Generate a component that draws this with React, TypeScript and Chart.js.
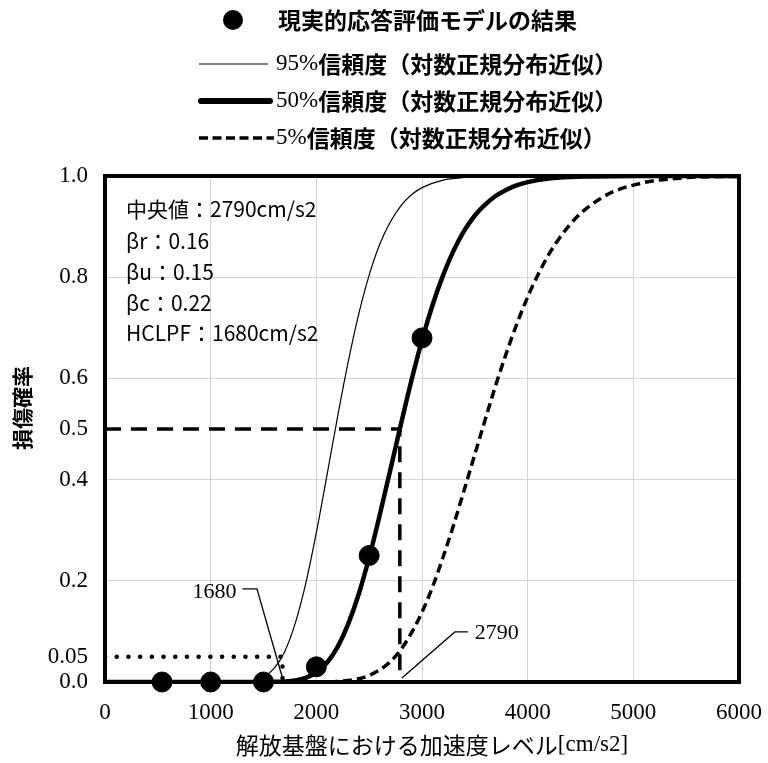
import React, { useEffect, useRef } from "react";
import { Chart, registerables } from "chart.js";
Chart.register(...registerables);

// ---- data ----
const resultX = [540, 1000, 1500, 2000, 2500, 3000];
const resultY = [0, 0, 0, 0.03, 0.25, 0.68];

const curve95X = [0, 1100, 1200, 1300, 1400, 1500, 1600, 1700, 1800, 1900, 2000, 2100, 2200, 2300, 2400, 2500, 2600, 2700, 2800, 2900, 3000, 3200, 3400, 3600, 4000, 6000];
const curve95Y = [0, 0, 0.0001, 0.0006, 0.003, 0.010, 0.027, 0.060, 0.116, 0.195, 0.295, 0.408, 0.523, 0.631, 0.726, 0.804, 0.865, 0.909, 0.941, 0.963, 0.977, 0.992, 0.997, 0.999, 1.0, 1.0];

const curve50X = [0, 1400, 1500, 1600, 1700, 1800, 1900, 2000, 2100, 2200, 2300, 2400, 2500, 2600, 2700, 2800, 2900, 3000, 3100, 3200, 3300, 3400, 3500, 3600, 3700, 3800, 3900, 4000, 4200, 4400, 4600, 5000, 6000];
const curve50Y = [0, 0, 0.0001, 0.0003, 0.001, 0.003, 0.008, 0.019, 0.038, 0.069, 0.114, 0.173, 0.246, 0.330, 0.419, 0.509, 0.596, 0.675, 0.745, 0.804, 0.853, 0.892, 0.922, 0.944, 0.961, 0.973, 0.982, 0.988, 0.995, 0.998, 0.999, 1.0, 1.0];

const curve5X = [0, 1900, 2000, 2100, 2200, 2300, 2400, 2500, 2600, 2700, 2800, 2900, 3000, 3100, 3200, 3300, 3400, 3500, 3600, 3700, 3800, 3900, 4000, 4100, 4200, 4300, 4400, 4500, 4600, 4700, 4800, 4900, 5000, 5200, 5400, 5600, 6000];
const curve5Y = [0, 0, 0.0002, 0.0005, 0.0012, 0.003, 0.0065, 0.013, 0.024, 0.040, 0.064, 0.097, 0.138, 0.188, 0.247, 0.311, 0.380, 0.450, 0.520, 0.588, 0.651, 0.709, 0.761, 0.806, 0.845, 0.877, 0.904, 0.926, 0.943, 0.957, 0.968, 0.976, 0.982, 0.991, 0.995, 0.998, 0.999];

const medianValue = 2790;
const hclpfValue = 1680;
const medianProb = 0.5;
const hclpfProb = 0.05;

const yTickValues = [0, 0.05, 0.2, 0.4, 0.5, 0.6, 0.8, 1.0];
const yTickLabels = ["0.0", "0.05", "0.2", "0.4", "0.5", "0.6", "0.8", "1.0"];
const yGridValues = [0.2, 0.4, 0.6, 0.8];
const xGridValues = [1000, 2000, 3000, 4000, 5000];

const legendLabels = [
  "現実的応答評価モデルの結果",
  "95%信頼度（対数正規分布近似）",
  "50%信頼度（対数正規分布近似）",
  "5%信頼度（対数正規分布近似）",
];
const infoLines = ["中央値：2790cm/s2", "βr：0.16", "βu：0.15", "βc：0.22", "HCLPF：1680cm/s2"];
const xTitle = "解放基盤における加速度レベル[cm/s2]";
const yTitle = "損傷確率";

const SERIF = '"Liberation Serif", "Times New Roman", serif';
const CJK = '"Noto Sans CJK JP", sans-serif';

function toXY(xs: number[], ys: number[]) {
  return xs.map((x, i) => ({ x, y: ys[i] }));
}

function drawMixed(ctx: CanvasRenderingContext2D, text: string, x: number, y: number, cjkFont: string, latinFont: string, align: "left" | "center" = "left") {
  const runs: { t: string; latin: boolean }[] = [];
  for (const ch of text) {
    const latin = ch.charCodeAt(0) < 128;
    const last = runs[runs.length - 1];
    if (last && last.latin === latin) last.t += ch;
    else runs.push({ t: ch, latin });
  }
  let total = 0;
  for (const r of runs) {
    ctx.font = r.latin ? latinFont : cjkFont;
    total += ctx.measureText(r.t).width;
  }
  let cx = align === "center" ? x - total / 2 : x;
  ctx.textAlign = "left";
  for (const r of runs) {
    ctx.font = r.latin ? latinFont : cjkFont;
    ctx.fillText(r.t, cx, y);
    cx += ctx.measureText(r.t).width;
  }
}

const decorPlugin = {
  id: "decor",
  beforeDatasetsDraw(chart: any) {
    const { ctx, chartArea: a } = chart;
    ctx.save();
    ctx.strokeStyle = "#000";
    ctx.lineWidth = 4;
    ctx.strokeRect(a.left, a.top, a.right - a.left, a.bottom - a.top);
    ctx.restore();
  },
  afterDatasetsDraw(chart: any) {
    const { ctx } = chart;
    const xs = chart.scales.x;
    const ys = chart.scales.y;
    const px = (v: number) => xs.getPixelForValue(v);
    const py = (v: number) => ys.getPixelForValue(v);
    ctx.save();
    ctx.strokeStyle = "#000";
    ctx.lineWidth = 1.3;
    // HCLPF leader
    ctx.beginPath();
    ctx.moveTo(px(1300), py(0.184));
    ctx.lineTo(px(1438), py(0.184));
    ctx.lineTo(px(hclpfValue), py(0.008));
    ctx.stroke();
    // median leader
    ctx.beginPath();
    ctx.moveTo(px(3434), py(0.099));
    ctx.lineTo(px(3311), py(0.099));
    ctx.lineTo(px(medianValue + 20), py(0.008));
    ctx.stroke();
    ctx.fillStyle = "#000";
    ctx.font = `22px ${SERIF}`;
    ctx.textBaseline = "middle";
    ctx.textAlign = "right";
    ctx.fillText(String(hclpfValue), px(1245), py(0.178));
    ctx.textAlign = "left";
    ctx.fillText(String(medianValue), px(3500), py(0.097));
    ctx.restore();
  },
  afterDraw(chart: any) {
    const { ctx, chartArea: a } = chart;
    ctx.save();
    ctx.fillStyle = "#000";
    ctx.textBaseline = "middle";
    // info box
    ctx.font = `21px ${CJK}`;
    const lineYs = [209, 241, 272, 303, 333];
    infoLines.forEach((t, i) => {
      ctx.textAlign = "left";
      ctx.fillText(t, a.left + 21, lineYs[i]);
    });
    // legend
    const legendY = [20, 64, 101, 138];
    const sampleL = 199, sampleR = 270, textX = 276;
    ctx.beginPath();
    ctx.arc(233, legendY[0], 10, 0, Math.PI * 2);
    ctx.fill();
    ctx.strokeStyle = "#000";
    ctx.lineCap = "butt";
    ctx.lineWidth = 1.2;
    ctx.beginPath(); ctx.moveTo(sampleL, legendY[1]); ctx.lineTo(sampleR - 2, legendY[1]); ctx.stroke();
    ctx.lineWidth = 6;
    ctx.lineCap = "round";
    ctx.beginPath(); ctx.moveTo(sampleL + 2, legendY[2]); ctx.lineTo(sampleR, legendY[2]); ctx.stroke();
    ctx.lineCap = "butt";
    ctx.lineWidth = 3.5;
    ctx.setLineDash([9, 4.5]);
    ctx.beginPath(); ctx.moveTo(sampleL, legendY[3]); ctx.lineTo(sampleR + 4, legendY[3]); ctx.stroke();
    ctx.setLineDash([]);
    const cjkF = `bold 23px ${CJK}`;
    const latF = `23px ${SERIF}`;
    drawMixed(ctx, legendLabels[0], 278, legendY[0], cjkF, latF);
    for (let i = 1; i < 4; i++) drawMixed(ctx, legendLabels[i], textX, legendY[i], cjkF, latF);
    // axis titles
    drawMixed(ctx, xTitle, 432, 745, `23px ${CJK}`, `23px ${SERIF}`, "center");
    ctx.save();
    ctx.translate(22, 408);
    ctx.rotate(-Math.PI / 2);
    ctx.font = `bold 21px ${CJK}`;
    ctx.textAlign = "center";
    ctx.fillText(yTitle, 0, 0);
    ctx.restore();
    ctx.restore();
  },
};

export default function App() {
  const ref = useRef<HTMLCanvasElement>(null);
  useEffect(() => {
    if (!ref.current) return;
    const chart = new Chart(ref.current, {
      type: "line",
      data: {
        datasets: [
          {
            label: legendLabels[0],
            data: toXY(resultX, resultY),
            showLine: false,
            pointRadius: 10,
            pointBackgroundColor: "#000",
            pointBorderColor: "#000",
            borderColor: "#000",
            clip: false as any,
            order: 0,
          },
          {
            label: legendLabels[1],
            data: toXY(curve95X, curve95Y),
            borderColor: "#000",
            borderWidth: 1.2,
            pointRadius: 0,
            cubicInterpolationMode: "monotone",
            order: 3,
          },
          {
            label: legendLabels[2],
            data: toXY(curve50X, curve50Y),
            borderColor: "#000",
            borderWidth: 4.5,
            pointRadius: 0,
            cubicInterpolationMode: "monotone",
            order: 1,
          },
          {
            label: legendLabels[3],
            data: toXY(curve5X, curve5Y),
            borderColor: "#000",
            borderWidth: 3.5,
            borderDash: [9, 5],
            pointRadius: 0,
            cubicInterpolationMode: "monotone",
            order: 2,
          },
          {
            label: "median",
            data: [{ x: 0, y: medianProb }, { x: medianValue, y: medianProb }, { x: medianValue, y: 0 }],
            borderColor: "#000",
            borderWidth: 3.5,
            borderDash: [16, 10],
            pointRadius: 0,
            order: 4,
          },
          {
            label: "hclpf",
            data: [{ x: 0, y: hclpfProb }, { x: hclpfValue, y: hclpfProb }, { x: hclpfValue, y: 0 }],
            borderColor: "#000",
            borderWidth: 4.5,
            borderDash: [0.1, 11.6],
            borderCapStyle: "round",
            pointRadius: 0,
            order: 5,
          },
        ],
      },
      options: {
        animation: false,
        responsive: false,
        layout: { padding: { top: 176, right: 29, left: 0, bottom: 0 } },
        plugins: { legend: { display: false }, tooltip: { enabled: false } },
        scales: {
          x: {
            type: "linear",
            min: 0,
            max: 6000,
            ticks: {
              stepSize: 1000,
              color: "#000",
              font: { family: SERIF, size: 23 },
              padding: 17,
              maxRotation: 0,
              callback: (v: any) => String(v),
            },
            grid: {
              drawTicks: false,
              color: (c: any) => (xGridValues.includes(c.tick?.value) ? "#d4d4d4" : "rgba(0,0,0,0)"),
            },
            border: { display: false },
            afterFit: (s: any) => { s.height = 81; s.paddingLeft = 0; s.paddingRight = 0; },
          },
          y: {
            type: "linear",
            min: 0,
            max: 1,
            afterBuildTicks: (s: any) => { s.ticks = yTickValues.map((v) => ({ value: v })); },
            ticks: {
              color: "#000",
              font: { family: SERIF, size: 23 },
              padding: 17,
              callback: (v: any) => yTickLabels[yTickValues.indexOf(Number(v))] ?? "",
            },
            grid: {
              drawTicks: false,
              color: (c: any) => (yGridValues.includes(c.tick?.value) ? "#d4d4d4" : "rgba(0,0,0,0)"),
            },
            border: { display: false },
            afterFit: (s: any) => { s.width = 105; s.paddingTop = 0; s.paddingBottom = 0; },
          },
        },
      },
      plugins: [decorPlugin],
    });
    return () => chart.destroy();
  }, []);
  return (
    <div style={{ position: "absolute", left: 0, top: 0, width: 768, height: 763, background: "#fff" }}>
      <canvas ref={ref} width={768} height={763} />
    </div>
  );
}
